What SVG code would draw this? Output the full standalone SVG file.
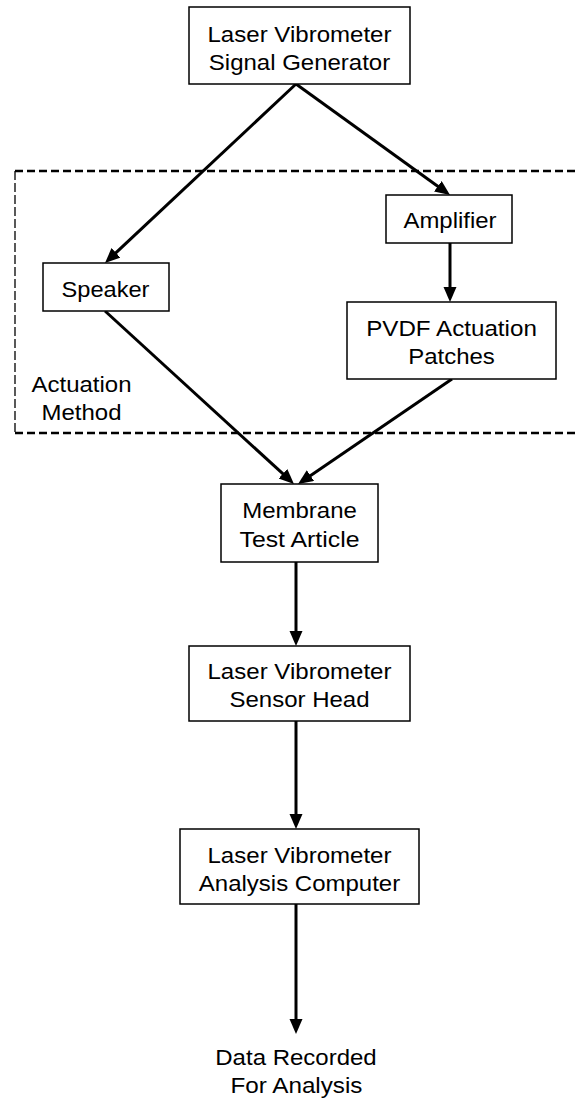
<svg xmlns="http://www.w3.org/2000/svg" width="579" height="1120" viewBox="0 0 579 1120">
  <style>
    .box { fill: #ffffff; stroke: #000000; stroke-width: 1.5; }
    .lbl { font-family: "Liberation Sans", Arial, sans-serif; font-size: 22px; fill: #000000; text-anchor: middle; }
    .edge { stroke: #000000; stroke-width: 3; fill: none; marker-end: url(#head); }
    .dash-h { stroke: #000000; stroke-width: 2.5; stroke-dasharray: 8 4; fill: none; }
    .dash-v { stroke: #000000; stroke-width: 1.3; stroke-dasharray: 9 3; fill: none; }
  </style>
  <defs>
    <marker id="head" markerUnits="userSpaceOnUse" markerWidth="16" markerHeight="14" refX="5" refY="6.5" orient="auto">
      <path d="M0,0 L15,6.5 L0,13 z" fill="#000000"/>
    </marker>
  </defs>
  <rect width="579" height="1120" fill="#ffffff"/>

  <!-- Actuation method frame (open on the right) -->
  <g id="actuation-frame">
    <line class="dash-h" x1="15" y1="171" x2="579" y2="171"/>
    <line class="dash-h" x1="15" y1="433" x2="579" y2="433"/>
    <line class="dash-v" x1="15" y1="171" x2="15" y2="433"/>
    <text class="lbl" x="81.5" y="392" textLength="100" lengthAdjust="spacingAndGlyphs">Actuation</text>
    <text class="lbl" x="81.5" y="420" textLength="80" lengthAdjust="spacingAndGlyphs">Method</text>
  </g>

  <!-- Connectors -->
  <g id="connectors">
    <line class="edge" x1="296" y1="84" x2="112.3" y2="256.2"/>
    <line class="edge" x1="296" y1="84" x2="441.9" y2="189.2"/>
    <line class="edge" x1="450" y1="243" x2="450" y2="292"/>
    <line class="edge" x1="105" y1="311" x2="286.6" y2="477.2"/>
    <line class="edge" x1="452" y1="379" x2="306.3" y2="478.4"/>
    <line class="edge" x1="296" y1="562" x2="296" y2="636"/>
    <line class="edge" x1="296" y1="721" x2="296" y2="819"/>
    <line class="edge" x1="296" y1="904" x2="296" y2="1024"/>
  </g>

  <g id="signal-generator">
    <rect class="box" x="189" y="7" width="221" height="77"/>
    <text class="lbl" x="299.5" y="42" textLength="184" lengthAdjust="spacingAndGlyphs">Laser Vibrometer</text>
    <text class="lbl" x="299.5" y="70" textLength="181.4" lengthAdjust="spacingAndGlyphs">Signal Generator</text>
  </g>

  <g id="speaker">
    <rect class="box" x="43" y="263" width="126" height="48"/>
    <text class="lbl" x="105.5" y="297" textLength="88" lengthAdjust="spacingAndGlyphs">Speaker</text>
  </g>

  <g id="amplifier">
    <rect class="box" x="386" y="195" width="126" height="48"/>
    <text class="lbl" x="450" y="228" textLength="93" lengthAdjust="spacingAndGlyphs">Amplifier</text>
  </g>

  <g id="pvdf-patches">
    <rect class="box" x="347" y="302" width="209" height="77"/>
    <text class="lbl" x="451.5" y="336" textLength="170.7" lengthAdjust="spacingAndGlyphs">PVDF Actuation</text>
    <text class="lbl" x="451.5" y="364" textLength="86.7" lengthAdjust="spacingAndGlyphs">Patches</text>
  </g>

  <g id="membrane">
    <rect class="box" x="221" y="484" width="157" height="78"/>
    <text class="lbl" x="299.5" y="518" textLength="114.7" lengthAdjust="spacingAndGlyphs">Membrane</text>
    <text class="lbl" x="299.5" y="547" textLength="120" lengthAdjust="spacingAndGlyphs">Test Article</text>
  </g>

  <g id="sensor-head">
    <rect class="box" x="189" y="646" width="221" height="75"/>
    <text class="lbl" x="299.5" y="679" textLength="184" lengthAdjust="spacingAndGlyphs">Laser Vibrometer</text>
    <text class="lbl" x="299.5" y="707" textLength="140.1" lengthAdjust="spacingAndGlyphs">Sensor Head</text>
  </g>

  <g id="analysis-computer">
    <rect class="box" x="180" y="829" width="239" height="75"/>
    <text class="lbl" x="299.5" y="863" textLength="184" lengthAdjust="spacingAndGlyphs">Laser Vibrometer</text>
    <text class="lbl" x="299.5" y="891" textLength="201.4" lengthAdjust="spacingAndGlyphs">Analysis Computer</text>
  </g>

  <g id="data-recorded">
    <text class="lbl" x="296" y="1065" textLength="161.4" lengthAdjust="spacingAndGlyphs">Data Recorded</text>
    <text class="lbl" x="296.5" y="1093" textLength="132" lengthAdjust="spacingAndGlyphs">For Analysis</text>
  </g>
</svg>
